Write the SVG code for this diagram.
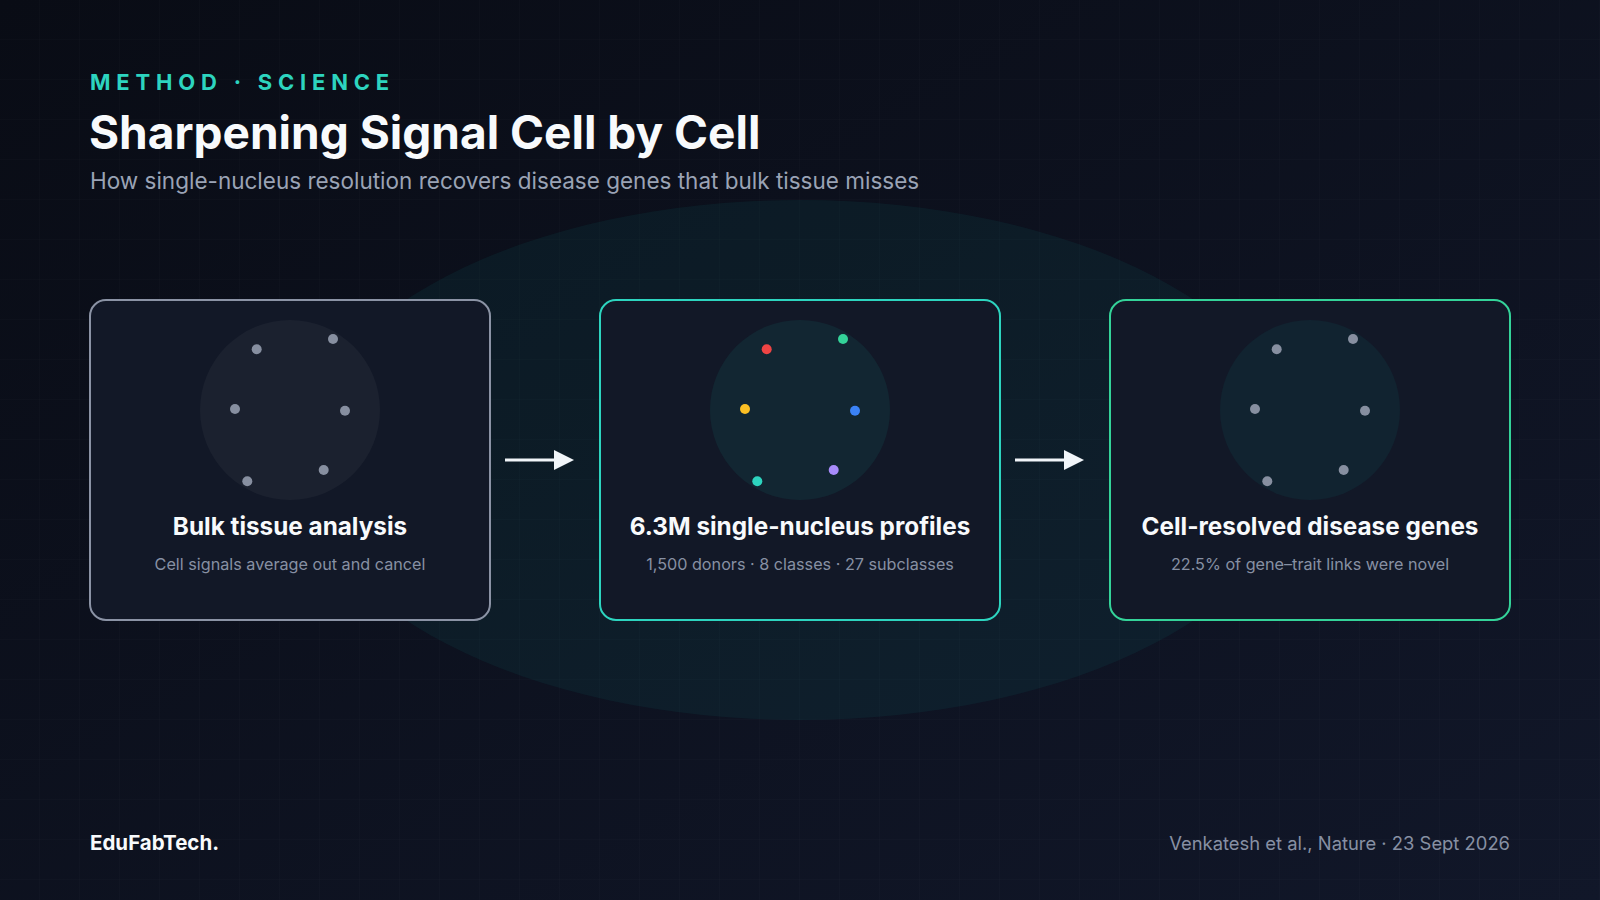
<svg xmlns="http://www.w3.org/2000/svg" width="1600" height="900" viewBox="0 0 1600 900">
  <defs>
    <linearGradient id="bg" x1="0" y1="0" x2="1" y2="1">
      <stop offset="0" stop-color="#090c15"/>
      <stop offset="1" stop-color="#111729"/>
    </linearGradient>
    <pattern id="grid" width="40" height="40" patternUnits="userSpaceOnUse">
      <path d="M40 0V40M0 40H40" fill="none" stroke="#ffffff" stroke-opacity="0.025" stroke-width="1"/>
    </pattern>
    <marker id="arrow" viewBox="0 0 20 20" refX="0" refY="10" markerWidth="20" markerHeight="20" markerUnits="userSpaceOnUse" orient="auto">
      <path d="M0 0L20 10L0 20Z" fill="#f1f5f9"/>
    </marker>
  </defs>
  <style>
    .card{fill:#121827;stroke-width:2}
    .title{font-family:Inter,"Liberation Sans",sans-serif;font-weight:700;font-size:24.3px;fill:#f8fafc;text-anchor:middle}
    .sub{font-family:Inter,"Liberation Sans",sans-serif;font-size:16.2px;fill:#8790a3;text-anchor:middle}
    .grey{fill:#878fa0}
    .conn{stroke:#f1f5f9;stroke-width:3;fill:none}
  </style>
  <rect width="1600" height="900" fill="url(#bg)"/>
  <rect width="1600" height="900" fill="url(#grid)"/>
  <ellipse cx="800" cy="460" rx="500" ry="260" fill="#14b8a6" fill-opacity="0.07"/>

  <text x="90" y="90" font-family="Inter,'Liberation Sans',sans-serif" font-weight="700" font-size="22" letter-spacing="5.8" fill="#2dd4bf">METHOD · SCIENCE</text>
  <text x="89" y="149" font-family="Inter,'Liberation Sans',sans-serif" font-weight="700" font-size="46" fill="#f8fafc">Sharpening Signal Cell by Cell</text>
  <text x="90" y="189" font-family="Inter,'Liberation Sans',sans-serif" font-size="22.5" fill="#9aa3b5">How single-nucleus resolution recovers disease genes that bulk tissue misses</text>

  <g id="node-bulk">
    <rect class="card" x="90" y="300" width="400" height="320" rx="16" stroke="#8b93a5"/>
    <circle cx="290" cy="410" r="90" fill="#ffffff" fill-opacity="0.04"/>
    <g class="grey">
      <circle cx="256.7" cy="349.3" r="5"/>
      <circle cx="333" cy="339" r="5"/>
      <circle cx="235" cy="409" r="5"/>
      <circle cx="345" cy="410.7" r="5"/>
      <circle cx="247.3" cy="481.3" r="5"/>
      <circle cx="323.7" cy="470" r="5"/>
    </g>
    <text class="title" x="290" y="535">Bulk tissue analysis</text>
    <text class="sub" x="290" y="570">Cell signals average out and cancel</text>
  </g>

  <g id="node-single">
    <rect class="card" x="600" y="300" width="400" height="320" rx="16" stroke="#2dd4bf"/>
    <circle cx="800" cy="410" r="90" fill="#14b8a6" fill-opacity="0.09"/>
    <circle cx="766.7" cy="349.3" r="5" fill="#ef4444"/>
    <circle cx="843" cy="339" r="5" fill="#34d399"/>
    <circle cx="745" cy="409" r="5" fill="#fbbf24"/>
    <circle cx="855" cy="410.7" r="5" fill="#3b82f6"/>
    <circle cx="757.3" cy="481.3" r="5" fill="#2dd4bf"/>
    <circle cx="833.7" cy="470" r="5" fill="#a78bfa"/>
    <text class="title" x="800" y="535">6.3M single-nucleus profiles</text>
    <text class="sub" x="800" y="570">1,500 donors · 8 classes · 27 subclasses</text>
  </g>

  <g id="node-genes">
    <rect class="card" x="1110" y="300" width="400" height="320" rx="16" stroke="#34d399"/>
    <circle cx="1310" cy="410" r="90" fill="#14b8a6" fill-opacity="0.07"/>
    <g class="grey">
      <circle cx="1276.7" cy="349.3" r="5"/>
      <circle cx="1353" cy="339" r="5"/>
      <circle cx="1255" cy="409" r="5"/>
      <circle cx="1365" cy="410.7" r="5"/>
      <circle cx="1267.3" cy="481.3" r="5"/>
      <circle cx="1343.7" cy="470" r="5"/>
    </g>
    <text class="title" x="1310" y="535">Cell-resolved disease genes</text>
    <text class="sub" x="1310" y="570">22.5% of gene–trait links were novel</text>
  </g>

  <g id="connectors">
    <line class="conn" x1="505" y1="460" x2="554" y2="460" marker-end="url(#arrow)"/>
    <line class="conn" x1="1015" y1="460" x2="1064" y2="460" marker-end="url(#arrow)"/>
  </g>

  <text x="90" y="850" font-family="Inter,'Liberation Sans',sans-serif" font-weight="700" font-size="20.5" fill="#f8fafc">EduFabTech.</text>
  <text x="1510" y="850" text-anchor="end" font-family="Inter,'Liberation Sans',sans-serif" font-size="18.4" fill="#8790a3">Venkatesh et al., Nature · 23 Sept 2026</text>
</svg>
